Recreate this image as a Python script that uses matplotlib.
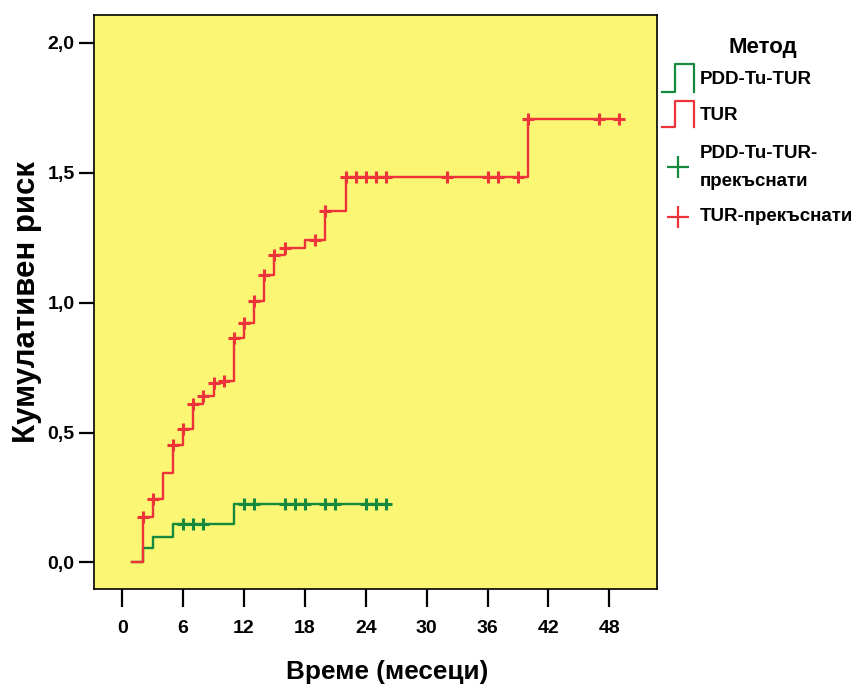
import matplotlib

matplotlib.use("Agg")
import matplotlib.pyplot as plt
from matplotlib.lines import Line2D
import numpy as np

plt.rcParams["font.family"] = ["Liberation Sans", "DejaVu Sans"]
plt.rcParams["font.weight"] = "bold"

# Cumulative hazard step curves (time in months)
tur_t = [1, 2, 3, 4, 5, 6, 7, 8, 9, 10, 11, 12, 13, 14, 15, 16, 18, 20, 22, 40, 49]
tur_h = [0.0, 0.177, 0.244, 0.344, 0.453, 0.513, 0.610, 0.642, 0.690, 0.700, 0.863,
         0.920, 1.007, 1.107, 1.182, 1.212, 1.241, 1.353, 1.482, 1.705, 1.705]
tur_cens = [2, 3, 5, 6, 7, 8, 9, 10, 11, 12, 13, 14, 15, 16, 19, 20, 22, 23, 24, 25,
            26, 32, 36, 37, 39, 40, 47, 49]

pdd_t = [1, 2, 3, 5, 11, 26]
pdd_h = [0.0, 0.055, 0.100, 0.149, 0.226, 0.226]
pdd_cens = [6, 7, 8, 12, 13, 16, 17, 18, 20, 21, 24, 25, 26]

x_ticks = [0, 6, 12, 18, 24, 30, 36, 42, 48]
y_ticks = [0.0, 0.5, 1.0, 1.5, 2.0]
y_tick_labels = ["0,0", "0,5", "1,0", "1,5", "2,0"]

RED = "#EE333B"
GREEN = "#15893D"
BG = "#FBF674"

W, H = 859, 691


def step_value(times, values, t):
    i = np.searchsorted(times, t, side="right") - 1
    return np.asarray(values)[i]


def fx(x):
    return x / W


def fy(y):
    return 1 - y / H


fig = plt.figure(figsize=(W / 100, H / 100), dpi=100)
ax = fig.add_axes([fx(94), fy(589), fx(657) - fx(94), fy(15) - fy(589)])
ax.set_facecolor(BG)

ax.step(pdd_t, pdd_h, where="post", color=GREEN, lw=1.7, zorder=2)
ax.step(tur_t, tur_h, where="post", color=RED, lw=1.7, zorder=3)
ax.plot(pdd_cens, step_value(pdd_t, pdd_h, pdd_cens), ls="none", marker="+",
        ms=9, mew=2.2, color=GREEN, zorder=2)
ax.plot(tur_cens, step_value(tur_t, tur_h, tur_cens), ls="none", marker="+",
        ms=9, mew=2.2, color=RED, zorder=3)

ax.set_xlim(-2.79, 52.7)
ax.set_ylim(-0.102, 2.107)
ax.set_xticks(x_ticks)
ax.set_yticks(y_ticks)
ax.set_yticklabels(y_tick_labels)
ax.tick_params(axis="x", direction="out", length=13, width=1.6, pad=9, labelsize=14)
ax.tick_params(axis="y", direction="out", length=11, width=1.6, pad=3, labelsize=14)
for s in ax.spines.values():
    s.set_linewidth(1.2)

ax.set_xlabel("Време (месеци)", fontsize=18.8, fontweight="bold")
ax.xaxis.set_label_coords(0.52, -0.124, transform=ax.transAxes)
ax.set_ylabel("Кумулативен риск", fontsize=22.5, fontweight="bold", labelpad=4)

# legend drawn beside the axes
fig.text(fx(763), fy(48), "Метод", ha="center", va="center", fontsize=16,
         fontweight="bold")
for color, bot, top in [(GREEN, 91.7, 64), (RED, 127, 100.7)]:
    fig.add_artist(Line2D([fx(662), fx(675), fx(675), fx(694), fx(694)],
                          [fy(bot), fy(bot), fy(top), fy(top), fy(bot)],
                          color=color, lw=1.6, transform=fig.transFigure))
for color, cy in [(GREEN, 166.7), (RED, 216.7)]:
    fig.add_artist(Line2D([fx(677.7)], [fy(cy)], marker="+", ms=16, mew=1.6,
                          color=color, ls="none", transform=fig.transFigure))
for label, cy in [("PDD-Tu-TUR", 80), ("TUR", 115), ("PDD-Tu-TUR-", 153),
                  ("прекъснати", 181), ("TUR-прекъснати", 216.7)]:
    fig.text(fx(700), fy(cy), label, ha="left", va="center", fontsize=13.5,
             fontweight="bold")

fig.savefig("out.png", dpi=100, facecolor="white")
